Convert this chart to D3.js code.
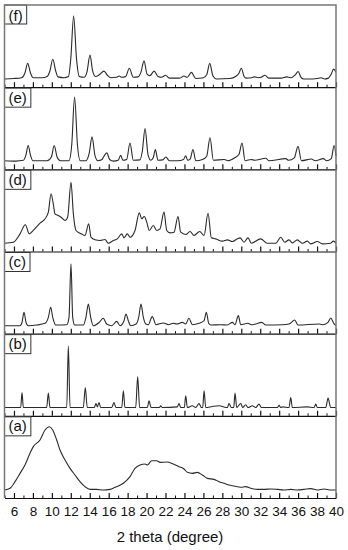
<!DOCTYPE html>
<html>
<head>
<meta charset="utf-8">
<script src="https://cdn.jsdelivr.net/npm/d3@7"></script>
<style>
  body { margin: 0; background: #fff; }
  svg text { font-family: "Liberation Sans", Arial, sans-serif; fill: #111; }
</style>
</head>
<body>
<svg id="chart" width="348" height="550"></svg>
<script>
// panel labels, top to bottom
var panelLabels = ["(f)", "(e)", "(d)", "(c)", "(b)", "(a)"];
var majorTicks = [6, 8, 10, 12, 14, 16, 18, 20, 22, 24, 26, 28, 30, 32, 34, 36, 38, 40];
var minorTicks = [5, 7, 9, 11, 13, 15, 17, 19, 21, 23, 25, 27, 29, 31, 33, 35, 37, 39];
var xTitle = "2 theta (degree)";

// [2theta, intensity], intensity 0-100 per panel
var seriesF = [[5,10],[6,10.5],[6.8,11.5],[7.15,17],[7.45,29],[7.75,17],[8.05,11.5],[9,11.5],[9.5,13],[9.8,20],[10.1,34],[10.4,20],[10.65,12.5],[11.3,11.5],[11.75,13],[12.0,35],[12.3,86.5],[12.6,35],[12.9,13],[13.4,12],[13.7,18],[14.03,39],[14.3,20],[14.6,13],[15.0,15],[15.5,19.5],[15.9,14],[16.2,11.5],[16.8,12],[17.1,13.5],[17.4,12],[17.8,13],[18.18,23],[18.6,12],[19.1,12.5],[19.4,18],[19.73,32],[20.05,16],[20.35,14],[20.8,19.5],[21.2,13],[21.6,12],[22.0,14.5],[22.4,11],[23.5,11],[23.95,13.5],[24.3,12],[24.73,18],[25.2,10.5],[26.0,11.5],[26.35,15],[26.67,29],[27,14],[27.4,10],[28.8,10.5],[29.4,13],[29.75,17],[30.0,23],[30.3,13],[30.5,11],[31.1,11.5],[31.4,12.5],[31.8,11.5],[32.1,12],[32.5,14.5],[32.9,11],[34.2,11],[34.8,12.5],[35.2,11.5],[35.7,15],[36.0,19],[36.3,12],[36.6,10],[37.6,10],[38.0,10.5],[38.4,11.5],[38.8,10],[39.2,11],[39.5,16],[39.75,22],[40,18]];

var seriesE = [[5,10.5],[6.2,10],[7.0,11],[7.25,17],[7.5,29],[7.75,17],[8.0,10.5],[9.5,10.5],[9.95,15],[10.25,29],[10.55,15],[10.9,10.5],[11.8,10.5],[12.1,30],[12.4,88],[12.7,30],[13.0,10.5],[13.6,10.5],[13.95,20],[14.24,39.5],[14.55,17],[14.85,10.5],[15.3,12],[15.5,16],[15.8,20],[16.1,12],[16.5,10],[17.0,11],[17.27,17],[17.5,11],[17.9,12],[18.25,32],[18.6,11],[19.3,11.5],[19.55,22],[19.84,49.5],[20.15,18],[20.45,11],[20.7,14],[20.93,24],[21.2,11],[21.7,11.5],[22.05,15],[22.4,10.5],[23.3,10.5],[23.9,12],[24.13,16.5],[24.35,11],[24.6,12.5],[24.9,24],[25.2,10.5],[25.9,12],[26.35,16],[26.7,38.5],[27.05,11],[28.2,12],[28.6,10.5],[29.3,14],[29.75,18],[30.08,32],[30.4,10.5],[31.06,12],[31.4,11],[32.6,13.5],[32.9,10.5],[34.7,13],[35.0,11],[35.6,14],[35.99,28],[36.35,10.5],[37.4,12.5],[37.8,10.5],[38.66,13],[39.0,10.5],[39.5,13],[39.8,29],[40,16]];

var seriesD = [[5.0,10.1],[5.93,11.3],[6.64,21.5],[7.2,32.5],[7.62,21.5],[8.04,25.6],[8.75,34.5],[9.28,39.8],[9.63,47.9],[9.91,70.2],[10.15,58],[10.33,45.8],[10.68,43.8],[11.04,41],[11.39,37.7],[11.67,41.8],[12.02,84.3],[12.27,45.8],[12.55,25.6],[12.97,22.3],[13.5,19.5],[13.89,33.7],[14.13,17.4],[14.56,14.2],[15.08,13.4],[15.61,14.6],[15.96,10.1],[16.49,13.4],[16.91,15.4],[17.38,21.5],[17.62,16.6],[17.97,21.5],[18.25,17.4],[18.78,25.6],[19.23,47],[19.49,39.8],[19.76,42.6],[20.02,35.7],[20.29,25.6],[20.71,31.6],[21.07,25.6],[21.42,27.6],[21.84,47.9],[22.13,25.6],[22.48,22.7],[22.9,23.5],[23.32,42.6],[23.6,23.5],[24.13,20.7],[24.59,24.3],[25.01,19.5],[25.61,24.3],[26.07,19.5],[26.49,46.6],[26.84,16.6],[27.3,15.4],[28.0,12.6],[28.53,14.2],[29.06,12.2],[29.59,15.4],[29.87,16.6],[30.29,11.3],[30.71,16.6],[31.06,10.1],[32.05,15.4],[32.75,10.1],[33.64,10.1],[34.17,17.4],[34.59,11.3],[35.04,14.2],[35.39,10.5],[35.92,14.2],[36.45,10.1],[36.97,12.6],[37.33,9.3],[38.03,12.2],[38.56,9.3],[39.44,10.1],[39.72,12.6],[40,10.1]];

var seriesC = [[5.0,9.7],[6.64,9.7],[6.85,13.8],[7.06,26],[7.27,13.8],[7.51,9.7],[8.4,10.5],[9.28,12.6],[9.63,19.9],[9.88,32.1],[10.09,19.9],[10.41,10.5],[11.57,10.9],[11.81,19.9],[12.02,85],[12.2,19.9],[12.41,10.5],[13.32,10.5],[13.6,19.9],[13.85,36],[14.1,19.9],[14.38,9.7],[15.01,13.8],[15.43,18.7],[15.79,11.8],[16.32,9.7],[16.85,15],[17.2,9.7],[17.62,15.8],[17.83,23.9],[18.07,15.8],[18.33,9.7],[18.89,11.8],[19.17,19.9],[19.41,36],[19.66,19.9],[19.91,11.8],[20.18,10.9],[20.6,20.7],[21.0,10.9],[21.77,13],[22.3,10.9],[22.82,12.6],[23.2,11.8],[23.78,13.8],[24.13,11.8],[24.48,18.7],[24.83,10.9],[25.54,12.6],[26.07,15.8],[26.31,26],[26.56,12.6],[26.77,10.5],[27.83,10.9],[28.53,10.5],[29.06,13.8],[29.34,10.9],[29.69,21.9],[29.94,10.9],[30.71,12.6],[31.06,10.9],[31.52,11.8],[32.16,13.8],[32.58,10.5],[34.34,10.9],[35.04,11.8],[35.64,16.6],[35.99,10.5],[38.21,11.8],[38.56,10.9],[39.16,13.8],[39.44,19],[39.8,11.8],[40,9.7]];

var seriesB = [[5.0,10.1],[6.71,10.1],[6.85,28.4],[6.99,10.1],[9.45,10.1],[9.63,27.6],[9.8,10.1],[11.57,10.1],[11.74,85],[11.92,10.1],[13.32,10.1],[13.53,34.5],[13.74,10.1],[14.48,10.1],[14.66,15],[14.8,10.9],[14.98,16.2],[15.16,10.1],[16.32,10.1],[16.56,16.2],[16.77,10.1],[17.38,10.1],[17.55,30.4],[17.72,10.1],[18.85,10.1],[19.06,47.5],[19.27,10.1],[20.08,10.1],[20.26,18.2],[20.47,10.1],[21.35,10.1],[21.49,12.2],[21.66,10.1],[23.25,10.9],[23.43,15],[23.6,10.1],[23.99,10.1],[24.13,24.3],[24.31,10.1],[24.83,12.2],[25.19,10.1],[25.54,15],[25.78,10.1],[25.93,10.1],[26.07,30.4],[26.25,10.1],[26.94,11.4],[27.65,12.2],[28.53,10.1],[28.7,15],[28.95,10.1],[29.2,10.1],[29.34,27.6],[29.52,10.1],[29.94,15],[30.15,10.1],[30.47,13.4],[30.71,10.1],[31.17,12.2],[31.52,10.1],[31.87,14.2],[32.12,10.1],[33.81,10.1],[33.99,12.9],[34.17,10.1],[34.34,10.9],[35.04,10.1],[35.22,22.3],[35.39,10.1],[36.97,10.9],[37.68,10.1],[37.86,14.2],[38.03,10.1],[38.92,10.1],[39.16,21.5],[39.44,10.1],[40,10.1]];

var seriesA = [[5.0,9.7],[5.58,11.8],[6.11,19.9],[6.64,30],[7.16,40.2],[7.69,54.4],[8.04,62.5],[8.75,70.6],[9.28,82.8],[9.73,86.8],[10.09,82.8],[10.51,70.6],[10.86,58.4],[11.39,46.2],[11.92,36.1],[12.44,28],[12.97,19.9],[13.5,13.8],[14.03,10.5],[14.73,10.5],[15.43,9.7],[16.14,10.5],[16.67,13],[17.55,17.9],[18.25,26],[18.78,36.1],[19.31,40.2],[19.84,41.4],[20.08,40.2],[20.54,45.4],[21.07,45.4],[21.42,43.4],[22.13,43.8],[22.82,41.4],[23.43,38.1],[23.95,35.3],[24.31,31.2],[24.83,30],[25.36,31.2],[25.89,28],[26.41,23.9],[27.12,22.7],[27.65,19.9],[28.18,17.9],[28.71,15.8],[29.23,14.6],[29.94,13],[30.47,13.8],[31.0,11.8],[31.7,10.5],[32.4,10.5],[33.11,11],[33.81,10.5],[34.51,9.7],[35.22,10.5],[35.92,9.7],[36.63,10.5],[37.33,11.4],[38.03,9.7],[38.74,11],[39.44,9.7],[40,9.7]];

var panelData = [seriesF, seriesE, seriesD, seriesC, seriesB, seriesA];

var plotLeft = 4.5, plotRight = 336, plotTop = 5, plotBottom = 498;
var panelH = (plotBottom - plotTop) / panelData.length;

var svg = d3.select("#chart");

var x = d3.scaleLinear().domain([5, 40]).range([plotLeft, plotRight]);

panelData.forEach(function (data, i) {
	var pTop = plotTop + i * panelH;
	var pBottom = pTop + panelH;
	var y = d3.scaleLinear().domain([0, 100]).range([pBottom, pTop]);
	var g = svg.append("g").attr("class", "panel");

	var line = d3.line()
		.x(function (d) { return x(d[0]); })
		.y(function (d) { return y(d[1]); })
		.curve(d3.curveMonotoneX);

	g.append("path")
		.datum(data)
		.attr("d", line)
		.attr("fill", "none")
		.attr("stroke", "#2a2a2a")
		.attr("stroke-width", 1.1);

	// minor ticks
	g.append("g")
		.attr("transform", "translate(0," + pBottom + ")")
		.call(d3.axisBottom(x).tickValues(minorTicks).tickSize(-2.5).tickSizeOuter(0).tickFormat(""))
		.call(function (a) { a.select(".domain").remove(); a.selectAll("line").attr("stroke", "#111"); });

	// major ticks, labels only on the bottom panel
	var last = i == panelData.length - 1;
	var ax = g.append("g")
		.attr("transform", "translate(0," + pBottom + ")")
		.call(d3.axisBottom(x).tickValues(majorTicks).tickSize(-5).tickSizeOuter(0).tickPadding(8.5)
			.tickFormat(last ? d3.format("d") : ""));
	ax.select(".domain").attr("stroke", "#111").attr("stroke-width", 1.2);
	ax.selectAll("line").attr("stroke", "#111").attr("stroke-width", 1.2);
	ax.selectAll("text").attr("font-size", 13.5).attr("font-family", "Liberation Sans, Arial, sans-serif").attr("fill", "#111");

	// label box
	var box = g.append("rect")
		.attr("x", plotLeft)
		.attr("y", pTop + (i == 0 ? 0 : 1))
		.attr("height", 19)
		.attr("fill", "#fff")
		.attr("stroke", "#333")
		.attr("stroke-width", 1);
	var t = g.append("text")
		.attr("x", plotLeft + 4)
		.attr("y", pTop + 15.5)
		.attr("font-size", 15)
		.text(panelLabels[i]);
	box.attr("width", t.node().getComputedTextLength() + 8);
});

// outer frame: top, left, right
svg.append("path")
	.attr("d", "M" + plotLeft + "," + plotBottom + "V" + plotTop + "H" + plotRight + "V" + plotBottom)
	.attr("fill", "none")
	.attr("stroke", "#777")
	.attr("stroke-width", 1.5);

svg.append("text")
	.attr("x", 170)
	.attr("y", 541.5)
	.attr("text-anchor", "middle")
	.attr("font-size", 15)
	.text(xTitle);
</script>
</body>
</html>
